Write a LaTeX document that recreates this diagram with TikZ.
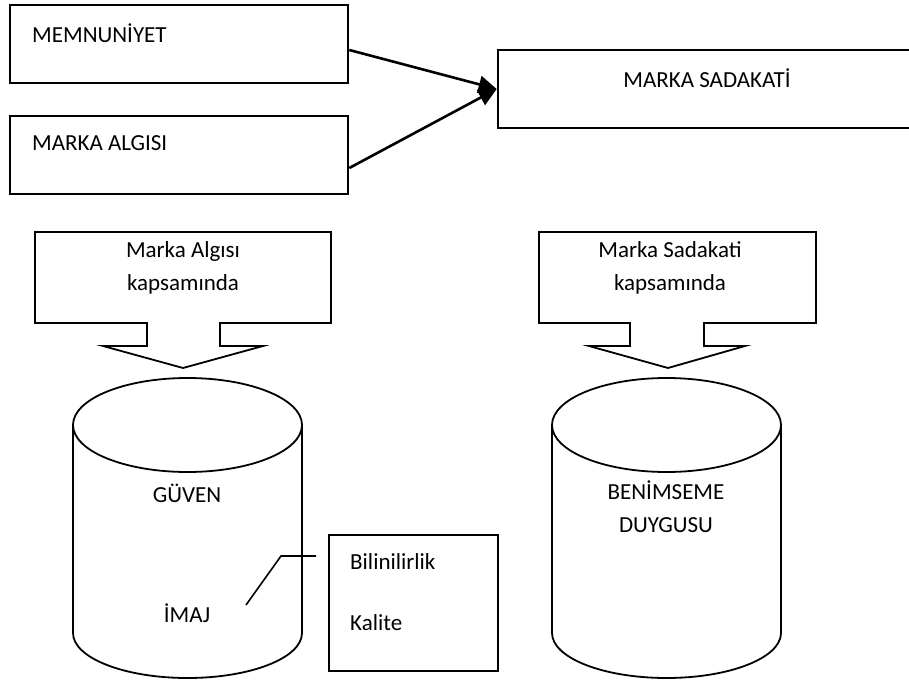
\documentclass[tikz,border=0pt]{standalone}
\usepackage{fontspec}
\setmainfont{Carlito}
\usetikzlibrary{arrows.meta}

\begin{document}
\begin{tikzpicture}[x=1pt, y=-1pt,
  every node/.style={font=\fontsize{23}{33}\selectfont},
  box/.style={draw, line width=2.6pt, inner sep=0pt},
  thinbox/.style={draw, line width=1.8pt, inner sep=0pt},
  lbl/.style={inner sep=0pt},
  conn/.style={line width=2.6pt, -{Triangle[length=18pt,width=17pt]}},
  outline/.style={line width=1.8pt}]

\useasboundingbox (0,0) rectangle (909,687);
\clip (0,0) rectangle (909,687);

% Top row
\node[box, minimum width=338pt, minimum height=78pt] (memnun) at (179,44) {};
\node[lbl, anchor=west] (memnuntxt) at (32,33) {MEMNUNİYET};
\node[box, minimum width=338pt, minimum height=78pt] (algi) at (179,155) {};
\node[lbl, anchor=west] (algitxt) at (32,143) {MARKA ALGISI};
\node[box, minimum width=418pt, minimum height=78pt] (sadakat) at (707,89) {};
\node[lbl] (sadakattxt) at (707,78) {MARKA SADAKATİ};

\draw[conn] (memnun.east |- 0,50) -- (sadakat.west);
\draw[conn] (algi.east |- 0,168) -- (sadakat.west);

% Callouts
\draw[outline] (35,232) -| (331,323) -| (220,346) -- (263,346) -- (183,368)
  -- (103,346) -- (147,346) |- (35,323) -- cycle;
\node[lbl, align=center] (algicap) at (183,268) {Marka Algısı\\kapsamında};

\draw[outline] (539,232) -| (816,323) -| (704,323) -- (704,346) -- (745,346)
  -- (668,368) -- (589,346) -- (630,346) |- (539,323) -- cycle;
\node[lbl, align=center] (sadakatcap) at (670,268) {Marka Sadakati\\kapsamında};

% Cylinders
\draw[outline] (187.5,425) ellipse [x radius=114.5pt, y radius=47pt];
\draw[outline] (73,425) -- (73,633)
  arc[start angle=180, end angle=360, x radius=114.5pt, y radius=45pt] -- (302,425);
\node[lbl] (guven) at (187,493) {GÜVEN};
\node[lbl] (imaj) at (187,613) {İMAJ};

\draw[outline] (666.5,425) ellipse [x radius=114.5pt, y radius=47pt];
\draw[outline] (552,425) -- (552,633)
  arc[start angle=180, end angle=360, x radius=114.5pt, y radius=45pt] -- (781,425);
\node[lbl, align=center] (benim) at (666,507) {BENİMSEME\\DUYGUSU};

% Sub-items of the image
\node[thinbox, minimum width=169pt, minimum height=136pt] (bilin) at (413.5,603) {};
\node[lbl, anchor=west] (bilintxt) at (350,562) {Bilinilirlik};
\node[lbl, anchor=west] (kalite) at (350,623) {Kalite};

\coordinate (imajend) at (246,605);
\coordinate (bilinend) at (316,556);
\draw[line width=1.6pt] (imajend) -- (281,556) -- (bilinend);

\end{tikzpicture}
\end{document}
